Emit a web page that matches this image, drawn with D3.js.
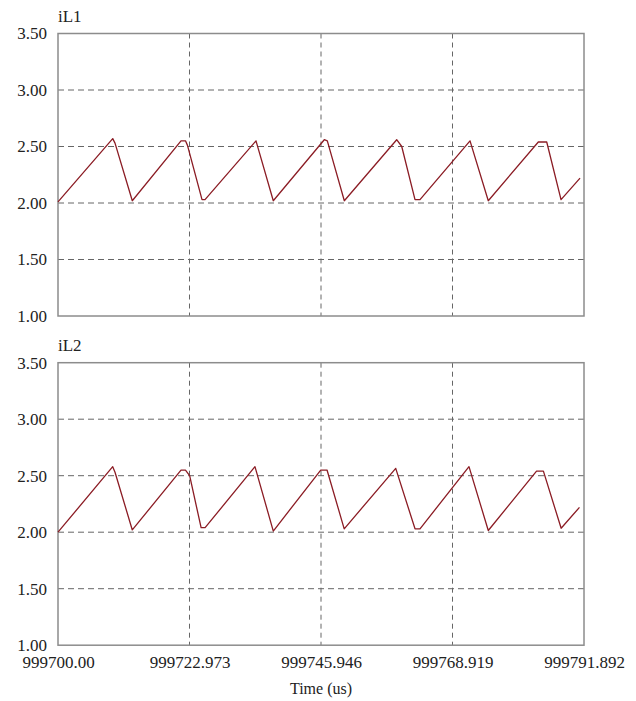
<!DOCTYPE html>
<html>
<head>
<meta charset="utf-8">
<script src="https://cdn.jsdelivr.net/npm/d3@7"></script>
<style>
  body { margin: 0; background: #fff; }
  svg text { font-family: "Liberation Serif", "DejaVu Serif", serif; fill: #222; }
</style>
</head>
<body>
<svg id="chart" width="636" height="701"></svg>
<script>
// data ==========================================================
const xTicks = [999700.00, 999722.973, 999745.946, 999768.919, 999791.892];
const xTickLabels = ["999700.00", "999722.973", "999745.946", "999768.919", "999791.892"];
const yTicks = [1.00, 1.50, 2.00, 2.50, 3.00, 3.50];
const yTickLabels = ["1.00", "1.50", "2.00", "2.50", "3.00", "3.50"];
const panelNames = ["iL1", "iL2"];

// time offsets (us) from 999700
const iL1Time = [0.00, 9.56, 9.96, 12.98, 21.49, 22.27, 22.62, 25.16, 25.68, 34.59, 37.61,
  46.52, 47.05, 50.02, 59.17, 60.05, 62.37, 63.24, 71.98, 75.17, 83.91, 85.38, 87.88, 91.20];
const iL1Value = [2.01, 2.57, 2.53, 2.02, 2.55, 2.55, 2.51, 2.03, 2.03, 2.55, 2.02,
  2.56, 2.55, 2.02, 2.56, 2.50, 2.03, 2.03, 2.55, 2.02, 2.54, 2.54, 2.03, 2.22];

const iL2Time = [0.00, 9.56, 9.96, 12.98, 21.49, 22.27, 23.00, 25.00, 25.70, 34.41, 37.61,
  45.90, 47.00, 50.00, 59.00, 62.37, 63.24, 71.80, 75.17, 83.60, 84.80, 87.90, 91.10];
const iL2Value = [2.00, 2.58, 2.53, 2.02, 2.55, 2.55, 2.50, 2.04, 2.04, 2.58, 2.01,
  2.55, 2.55, 2.03, 2.565, 2.03, 2.03, 2.58, 2.015, 2.54, 2.54, 2.035, 2.22];

const series = [
  { time: iL1Time, value: iL1Value },
  { time: iL2Time, value: iL2Value }
];

// layout ========================================================
var svg = d3.select("#chart");
var left = 58, right = 584;
var panelTops = [33.5, 362.7];
var panelHeight = 282.5;
var serif = "Liberation Serif, DejaVu Serif, serif";

var x = d3.scaleLinear()
    .domain([xTicks[0], xTicks[xTicks.length - 1]])
    .range([left, right]);

series.forEach(function(s, i) {
  var top = panelTops[i];
  var y = d3.scaleLinear()
      .domain([1.0, 3.5])
      .range([top + panelHeight, top]);

  var g = svg.append("g").attr("class", "panel");

  // dashed grid
  g.selectAll("line.hgrid")
    .data(yTicks.slice(1, -1))
    .enter().append("line")
      .attr("class", "hgrid")
      .attr("x1", left).attr("x2", right)
      .attr("y1", function(d) { return y(d); })
      .attr("y2", function(d) { return y(d); })
      .attr("stroke", "#666")
      .attr("stroke-width", 1)
      .attr("stroke-dasharray", "6,4");

  g.selectAll("line.vgrid")
    .data(xTicks.slice(1, -1))
    .enter().append("line")
      .attr("class", "vgrid")
      .attr("y1", top).attr("y2", top + panelHeight)
      .attr("x1", function(d) { return x(d); })
      .attr("x2", function(d) { return x(d); })
      .attr("stroke", "#666")
      .attr("stroke-width", 1)
      .attr("stroke-dasharray", "5,4");

  // frame
  g.append("rect")
    .attr("x", left).attr("y", top)
    .attr("width", right - left).attr("height", panelHeight)
    .attr("fill", "none")
    .attr("stroke", "#8c8c8c")
    .attr("stroke-width", 1.5);

  // waveform
  var pts = s.time.map(function(t, k) { return [xTicks[0] + t, s.value[k]]; });
  var line = d3.line()
      .x(function(d) { return x(d[0]); })
      .y(function(d) { return y(d[1]); });
  g.append("path")
    .datum(pts)
    .attr("d", line)
    .attr("fill", "none")
    .attr("stroke", "#8b1c24")
    .attr("stroke-width", 1.3)
    .attr("stroke-linejoin", "round");

  // y axis labels
  var yAxis = g.append("g")
      .attr("transform", "translate(" + left + ",0)")
      .call(d3.axisLeft(y)
        .tickValues(yTicks)
        .tickSize(0)
        .tickPadding(11)
        .tickFormat(function(d, k) { return yTickLabels[k]; }));
  yAxis.attr("font-family", serif).attr("font-size", 17);
  yAxis.select(".domain").remove();
  yAxis.selectAll("text").attr("fill", "#222");

  // panel title
  g.append("text")
    .attr("x", left)
    .attr("y", top - 12)
    .attr("font-size", 17)
    .text(panelNames[i]);
});

// x axis labels under bottom panel
var xAxis = svg.append("g")
    .attr("transform", "translate(0," + (panelTops[1] + panelHeight) + ")")
    .call(d3.axisBottom(x)
      .tickValues(xTicks)
      .tickSize(0)
      .tickPadding(11)
      .tickFormat(function(d, k) { return xTickLabels[k]; }));
xAxis.attr("font-family", serif).attr("font-size", 17);
xAxis.select(".domain").remove();
xAxis.selectAll("text").attr("fill", "#222");

svg.append("text")
  .attr("x", (left + right) / 2)
  .attr("y", 694)
  .attr("text-anchor", "middle")
  .attr("font-size", 16)
  .text("Time (us)");
</script>
</body>
</html>
